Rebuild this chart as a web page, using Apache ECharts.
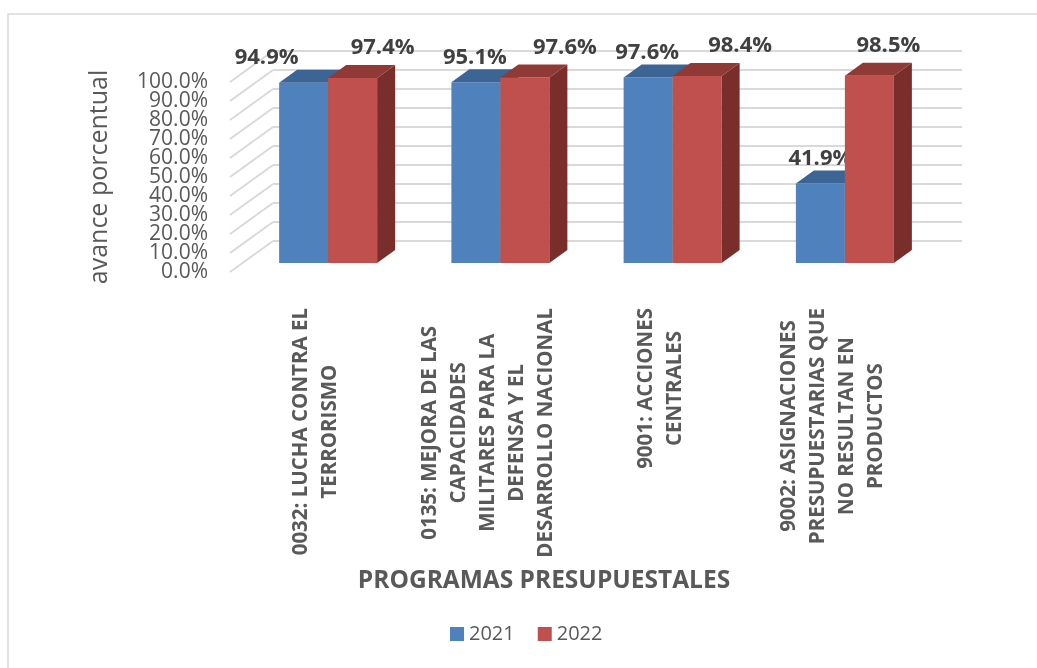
<!DOCTYPE html>
<html>
<head>
<meta charset="utf-8">
<script src="https://cdn.jsdelivr.net/npm/echarts@6/dist/echarts.min.js"></script>
<style>
  html, body { margin: 0; padding: 0; background: #fff; }
  #chart { width: 1037px; height: 668px; }
</style>
</head>
<body>
<div id="chart"></div>
<script>
// datos del gráfico
const categories = [
  '0032: LUCHA CONTRA EL\nTERRORISMO',
  '0135: MEJORA DE LAS\nCAPACIDADES\nMILITARES PARA LA\nDEFENSA Y EL\nDESARROLLO NACIONAL',
  '9001: ACCIONES\nCENTRALES',
  '9002: ASIGNACIONES\nPRESUPUESTARIAS QUE\nNO RESULTAN EN\nPRODUCTOS'
]
const years = ['2021', '2022']
const avance2021 = [94.9, 95.1, 97.6, 41.9]
const avance2022 = [97.4, 97.6, 98.4, 98.5]
const yTicks = [0, 10, 20, 30, 40, 50, 60, 70, 80, 90, 100]

// perspectiva 3D (px)
const WALL_DX = 43, WALL_DY = -31      // profundidad de las paredes
const FRONT_DX = 12, FRONT_DY = -9     // cara frontal de las barras
const DEPTH_DX = 18, DEPTH_DY = -13    // profundidad de cada barra
const BAR_W = 49
// desplazamiento horizontal de etiquetas [2021, 2022]
const LABEL_NUDGE = [[-46, 21], [-10, 31], [-10, 34], [-9, 10]]

const colors = {
  '2021': { front: '#4f81bd', top: '#3c6494', side: '#3a5f8b' },
  '2022': { front: '#c0504d', top: '#8f3a37', side: '#7a2e2c' }
}
const FONT = '"Open Sans", sans-serif'

const chart = echarts.init(document.getElementById('chart'))

// líneas de la pared trasera/izquierda + etiquetas del eje Y
function gridItem(params, api) {
  const cs = params.coordSys
  const v = api.value(0)
  const y = api.coord([0, v])[1]
  const x0 = cs.x
  const x1 = cs.x + cs.width
  const st = { stroke: '#d9d9d9', lineWidth: 2 }
  return {
    type: 'group',
    children: [
      { type: 'line', shape: { x1: x0, y1: y, x2: x0 + WALL_DX, y2: y + WALL_DY }, style: st },
      { type: 'line', shape: { x1: x0 + WALL_DX, y1: y + WALL_DY, x2: x1 + WALL_DX, y2: y + WALL_DY }, style: st },
      { type: 'text', x: x0 - 22, y: y, style: { text: v.toFixed(1) + '%', align: 'right', verticalAlign: 'middle', fill: '#595959', font: '21px ' + FONT } }
    ]
  }
}

function barRenderer(si) {
  const col = colors[years[si]]
  return function (params, api) {
    const idx = api.value(0)
    const base = api.coord([idx, 0])
    const top = api.coord([idx, api.value(1)])
    const x = base[0] + FRONT_DX + (si === 0 ? -BAR_W : 0)
    const yb = base[1] + FRONT_DY
    const yt = top[1] + FRONT_DY
    const lx = x + BAR_W / 2 + DEPTH_DX / 2 + LABEL_NUDGE[idx][si]
    const ly = yt + DEPTH_DY - (si === 0 ? 12 : 17)
    return {
      type: 'group',
      children: [
        { type: 'rect', shape: { x: x, y: yt, width: BAR_W, height: yb - yt }, style: { fill: col.front } },
        { type: 'polygon', shape: { points: [[x + BAR_W, yt], [x + BAR_W + DEPTH_DX, yt + DEPTH_DY], [x + BAR_W + DEPTH_DX, yb + DEPTH_DY], [x + BAR_W, yb]] }, style: { fill: col.side } },
        { type: 'polygon', shape: { points: [[x, yt], [x + BAR_W, yt], [x + BAR_W + DEPTH_DX, yt + DEPTH_DY], [x + DEPTH_DX, yt + DEPTH_DY]] }, style: { fill: col.top } },
        { type: 'text', x: lx, y: ly, style: { text: api.value(1).toFixed(1) + '%', align: 'center', verticalAlign: 'middle', fill: '#404040', font: 'bold 22px ' + FONT } }
      ]
    }
  }
}

chart.setOption({
  animation: false,
  title: {
    text: 'PROGRAMAS PRESUPUESTALES',
    left: 539,
    top: 564,
    textAlign: 'center',
    textStyle: { fontFamily: FONT, fontSize: 24.5, fontWeight: 'bold', color: '#595959' }
  },
  legend: {
    data: years,
    left: 445,
    top: 619,
    icon: 'rect',
    itemWidth: 14,
    itemHeight: 14,
    itemGap: 23,
    textStyle: { fontFamily: FONT, fontSize: 20, color: '#595959' }
  },
  graphic: [{
    type: 'rect',
    shape: { x: 8, y: 14, width: 1100, height: 800 },
    style: { fill: 'none', stroke: '#d9d9d9', lineWidth: 1.5 },
    silent: true
  }],
  grid: { left: 230, right: 118, top: 82, bottom: 396 },
  xAxis: {
    type: 'category',
    data: categories,
    axisLine: { show: false },
    axisTick: { show: false },
    axisLabel: {
      interval: 0,
      rotate: 90,
      margin: 36,
      color: '#595959',
      fontFamily: FONT,
      fontSize: 20.5,
      fontWeight: 'bold',
      lineHeight: 29,
      formatter: function (v) {
        return v.split('\n').map(function (l) { return '{c|' + l + '}' }).join('\n')
      },
      rich: { c: { align: 'center', color: '#595959', fontFamily: FONT, fontSize: 20.5, fontWeight: 'bold', lineHeight: 29 } }
    }
  },
  yAxis: {
    type: 'value',
    min: 0,
    max: 100,
    interval: 10,
    name: 'avance porcentual',
    nameLocation: 'middle',
    nameRotate: 90,
    nameGap: 118,
    nameTextStyle: { fontFamily: FONT, fontSize: 25, color: '#595959' },
    axisLine: { show: false },
    axisTick: { show: false },
    splitLine: { show: false },
    axisLabel: { show: false }
  },
  series: [
    {
      type: 'custom',
      name: 'grid',
      silent: true,
      z: 1,
      data: yTicks.map(function (t) { return [t] }),
      renderItem: gridItem,
      encode: { y: 0 }
    },
    {
      type: 'custom',
      name: years[0],
      z: 2,
      itemStyle: { color: colors['2021'].front },
      data: avance2021.map(function (v, i) { return [i, v] }),
      renderItem: barRenderer(0),
      encode: { x: 0, y: 1 }
    },
    {
      type: 'custom',
      name: years[1],
      z: 3,
      itemStyle: { color: colors['2022'].front },
      data: avance2022.map(function (v, i) { return [i, v] }),
      renderItem: barRenderer(1),
      encode: { x: 0, y: 1 }
    }
  ]
})
</script>
</body>
</html>
